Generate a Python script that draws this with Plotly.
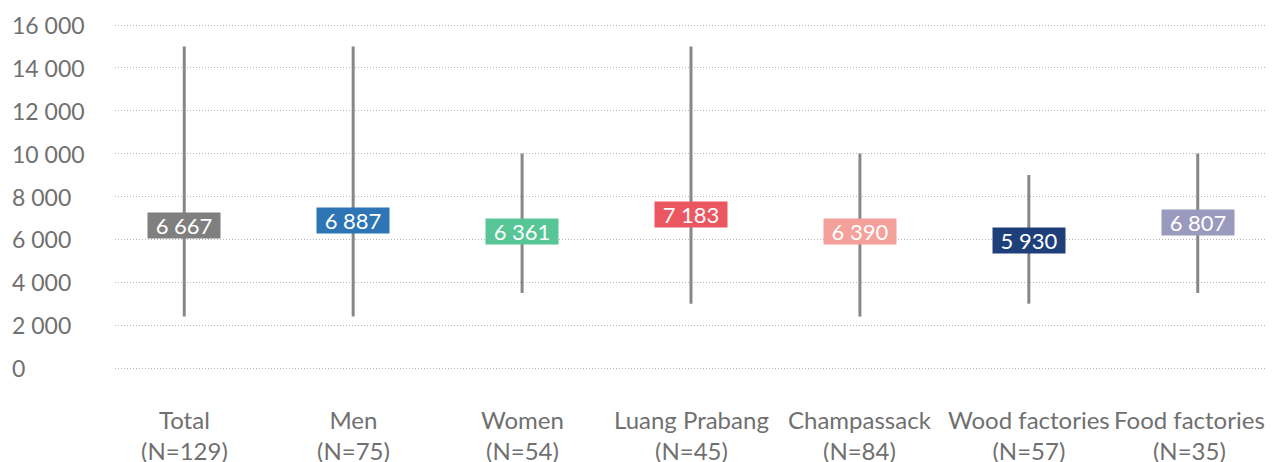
import plotly.graph_objects as go

categories = ["Total", "Men", "Women", "Luang Prabang", "Champassack", "Wood factories", "Food factories"]
n_counts = [129, 75, 54, 45, 84, 57, 35]
mean_values = [6667, 6887, 6361, 7183, 6390, 5930, 6807]
min_values = [2400, 2400, 3500, 3000, 2400, 3000, 3500]
max_values = [15000, 15000, 10000, 15000, 10000, 9000, 10000]
box_colors = ["#7f7f7f", "#2e75b6", "#57c596", "#ec5660", "#f4a09b", "#1f3f7a", "#9a9abf"]
y_ticks = [0, 2000, 4000, 6000, 8000, 10000, 12000, 14000, 16000]

FONT = "Lato"
TEXT_GRAY = "#707070"

def fmt(v):
    return f"{v:,}".replace(",", " ")

fig = go.Figure()

# min-max range lines
xs, ys = [], []
for i, (lo, hi) in enumerate(zip(min_values, max_values)):
    xs += [i, i, None]
    ys += [lo, hi, None]
fig.add_trace(go.Scatter(x=xs, y=ys, mode="lines",
                         line=dict(color="#878787", width=3),
                         hoverinfo="skip", showlegend=False))

# mean value labels
for i, (v, c) in enumerate(zip(mean_values, box_colors)):
    fig.add_annotation(x=i, y=v, xref="x", yref="y", text=fmt(v),
                       showarrow=False, bgcolor=c, width=72, height=25,
                       borderpad=0, align="center", valign="middle",
                       font=dict(family=FONT, size=22, color="white"))

# y tick labels (left aligned)
for t in y_ticks:
    fig.add_annotation(x=-105 / 1152, y=t, xref="paper", yref="y", text=fmt(t),
                       showarrow=False, xanchor="left", yanchor="middle",
                       font=dict(family=FONT, size=23, color=TEXT_GRAY))

# category labels
last = len(categories) - 1
for i, (c, n) in enumerate(zip(categories, n_counts)):
    if i == last:
        fig.add_annotation(x=1.0, y=0, xref="paper", yref="paper",
                           text=f"{c}<br>(N={n})", showarrow=False,
                           xanchor="right", yanchor="top", yshift=-32, align="center",
                           font=dict(family=FONT, size=24, color=TEXT_GRAY))
    else:
        fig.add_annotation(x=i, y=0, xref="x", yref="paper",
                           text=f"{c}<br>(N={n})", showarrow=False,
                           xanchor="center", yanchor="top", yshift=-32, align="center",
                           font=dict(family=FONT, size=24, color=TEXT_GRAY))

fig.update_layout(
    width=1267, height=454,
    margin=dict(l=107, r=8, t=14, b=91),
    plot_bgcolor="white", paper_bgcolor="white",
    font=dict(family=FONT, color=TEXT_GRAY),
    xaxis=dict(range=[-0.41, 6.41], tickvals=list(range(len(categories))),
               showticklabels=False, showgrid=False, zeroline=False, showline=False,
               automargin=False),
    yaxis=dict(range=[-140, 16140], tickvals=y_ticks, showticklabels=False, automargin=False,
               showgrid=True, gridcolor="#b5b5b5", gridwidth=1, griddash="1px,2px",
               zeroline=False, showline=False),
    showlegend=False,
)

fig.write_html("out.html")
